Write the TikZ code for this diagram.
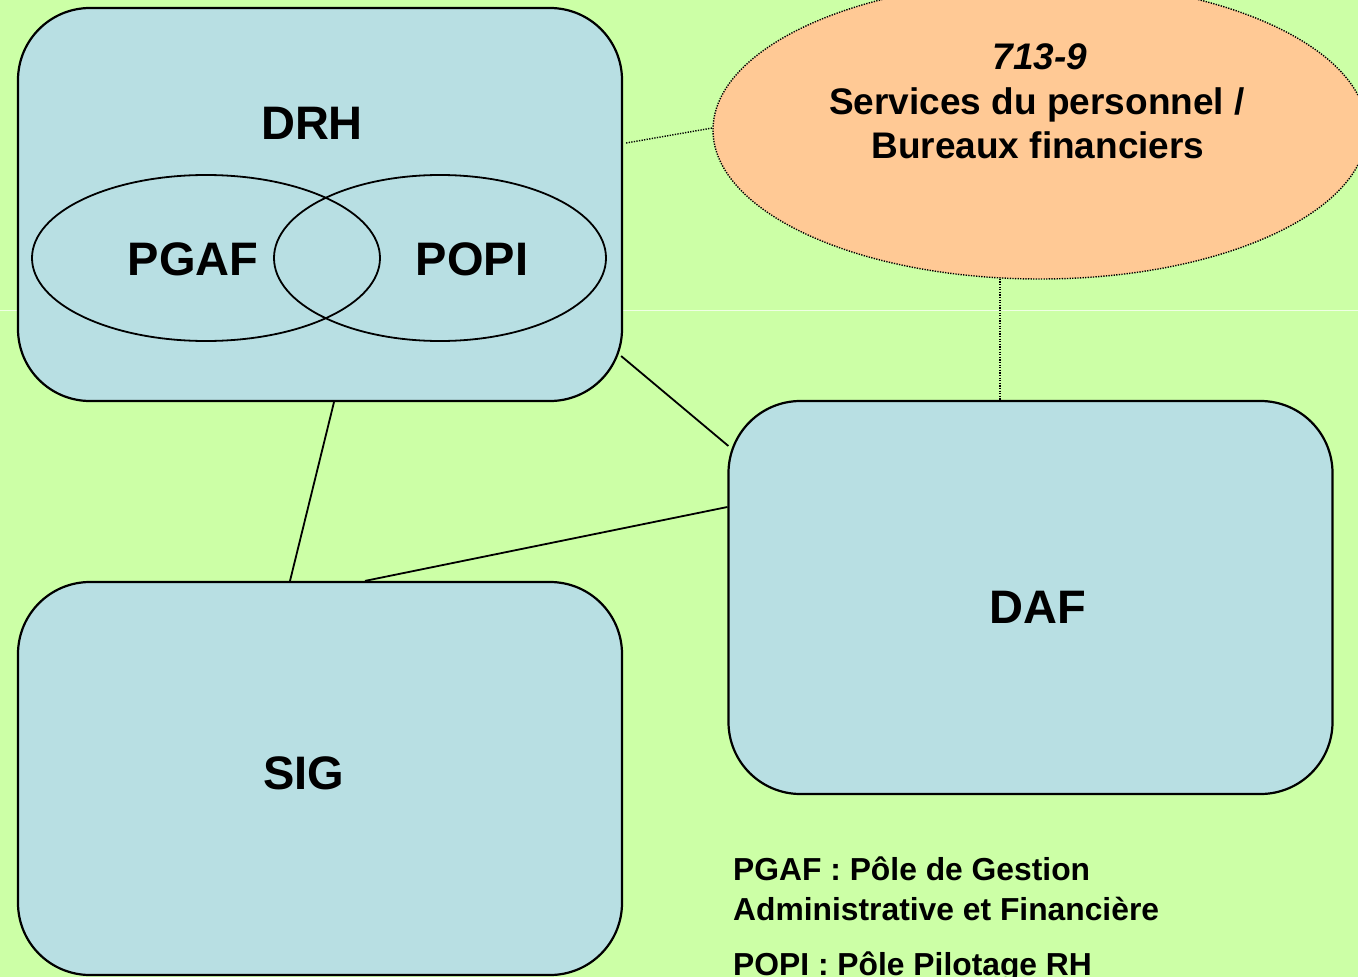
\documentclass[tikz,border=0pt]{standalone}
\usepackage{fontspec}
\setmainfont{Liberation Sans}
\usetikzlibrary{shapes.geometric}
\definecolor{bgc}{HTML}{CCFFA6}
\definecolor{boxc}{HTML}{B8DFE3}
\definecolor{peach}{HTML}{FFC995}
\tikzset{
  box/.style={draw=black, line width=2.2pt, fill=boxc, rounded corners=72pt, minimum width=604pt, minimum height=393pt, inner sep=0pt},
  pole/.style={draw=black, line width=1.8pt, ellipse, inner sep=0pt},
  big/.style={font=\fontsize{47}{56}\selectfont\bfseries},
  eltxt/.style={font=\fontsize{37}{44}\selectfont\bfseries, anchor=base},
  legtxt/.style={font=\fontsize{31.8}{38}\selectfont\bfseries, anchor=base west, inner sep=0pt},
  link/.style={draw=black, line width=1.8pt},
  dotlink/.style={draw=black, line width=1.4pt, dash pattern=on 1.3pt off 1.3pt}
}
\begin{document}
\begin{tikzpicture}[x=1pt, y=-1pt]
\useasboundingbox (0,0) rectangle (1358,977);
\clip (0,0) rectangle (1358,977);
\fill[bgc] (0,0) rectangle (1358,977);
\draw[white, opacity=0.7, line width=0.8pt] (0,310) -- (1358,310);
% ellipse
\node[ellipse, draw=black, line width=1.4pt, dash pattern=on 1.3pt off 1.3pt, fill=peach, minimum width=654pt, minimum height=298pt, inner sep=0pt] (ell) at (1040,130) {};
% boxes
\node[box] (drh) at (320,204.5) {};
\node[box] (sig) at (320,778.5) {};
\node[box] (daf) at (1030.5,597.5) {};
% poles
\node[pole, minimum width=348pt, minimum height=166pt] (pgafe) at (206,258) {};
\node[pole, minimum width=332pt, minimum height=166pt] (popie) at (440,258) {};
% labels
\node[big] (drht) at (312,123) {DRH};
\node[big] (pgaft) at (193,259) {PGAF};
\node[big] (popit) at (472,259) {POPI};
\node[big] (sigt) at (304,773) {SIG};
\node[big] (daft) at (1038,607) {DAF};
\node[eltxt, font=\fontsize{37}{44}\selectfont\bfseries\itshape] (num) at (1040,69) {713-9};
\node[eltxt] (serv) at (1037,114) {Services du personnel /};
\node[eltxt] (bur) at (1038,158) {Bureaux financiers};
% legend
\node[legtxt] (leg1) at (733,880) {PGAF : Pôle de Gestion};
\node[legtxt] (leg2) at (733,920) {Administrative et Financière};
\node[legtxt] (leg3) at (733,975) {POPI : Pôle Pilotage RH};
% connectors
\draw[link] ([xshift=-2pt, yshift=-151.5pt]drh.east) -- ([xshift=1pt, yshift=151.5pt]daf.west);
\draw[link] ([xshift=14pt]drh.south) -- ([xshift=-30pt]sig.north);
\draw[link] ([xshift=45pt]sig.north) -- ([yshift=90.5pt]daf.west);
\draw[dotlink] ([xshift=3pt, yshift=61.5pt]drh.east) -- ([yshift=2pt]ell.west);
\draw[dotlink] ([xshift=-40pt, yshift=1pt]ell.south) -- ([xshift=-30.5pt]daf.north);
\end{tikzpicture}
\end{document}
